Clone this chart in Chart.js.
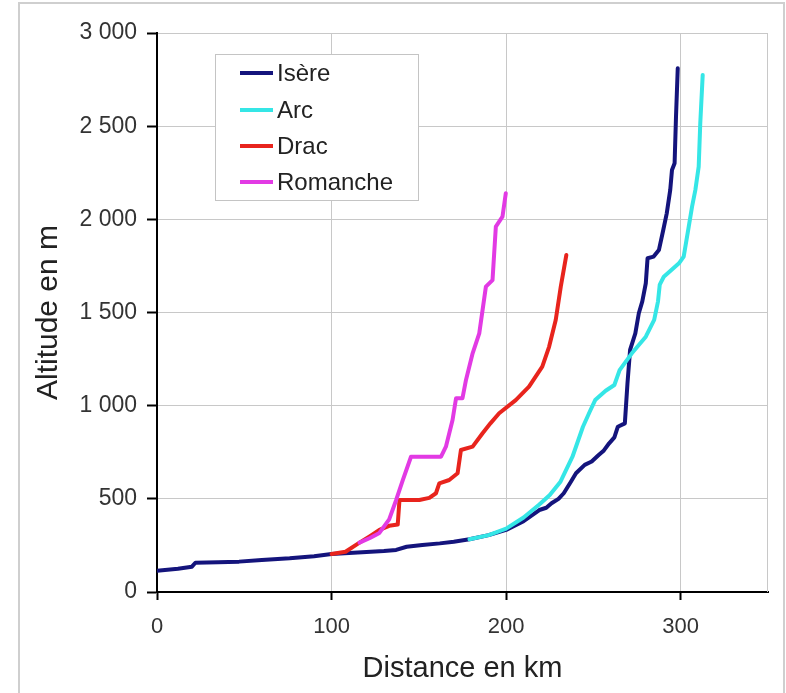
<!DOCTYPE html>
<html>
<head>
<meta charset="utf-8">
<script src="https://cdn.jsdelivr.net/npm/chart.js@4/dist/chart.umd.min.js"></script>
<style>
  html, body { margin: 0; padding: 0; background: #fff; }
  #wrap { width: 786px; height: 693px; }
</style>
</head>
<body>
<div id="wrap"><canvas id="c" width="786" height="693"></canvas></div>
<script>
// Longitudinal profiles: distance from the confluence (km) vs altitude (m)
const seriesNames = ['Isère', 'Arc', 'Drac', 'Romanche'];

const isereKm = [0, 12, 20, 22, 35, 47, 60, 76, 90, 100, 115, 130, 137, 143, 152, 162, 170, 179, 190, 200,
  210, 219, 223, 226, 230, 233, 237, 240, 245, 249, 253, 256, 259, 262, 264, 268, 269.5, 271, 274, 276,
  278, 280, 281, 284.5, 287.5, 290, 292, 294, 295, 296.5, 297.3, 298.3];
const isereAlt = [114, 125, 136, 157, 160, 163, 172, 181, 192, 204, 212, 220, 226, 243, 252, 261, 270, 283, 305, 333,
  380, 440, 452, 476, 500, 530, 590, 637, 682, 700, 735, 760, 798, 830, 887, 905, 1120, 1299, 1388, 1496,
  1560, 1657, 1791, 1800, 1835, 1943, 2032, 2158, 2265, 2301, 2551, 2811];

const arcKm = [179, 190, 200, 210, 219, 225, 231, 238, 244, 248, 251, 257, 262, 265, 272, 280, 284.8, 287, 288,
  290.3, 299, 301.7, 304.6, 306.5, 308.4, 310.3, 311.2, 312.6];
const arcAlt = [283, 305, 340, 400, 470, 520, 590, 726, 887, 970, 1030, 1080, 1111, 1191, 1281, 1370, 1460, 1560, 1650,
  1692, 1764, 1800, 1961, 2068, 2158, 2283, 2515, 2775];

const dracKm = [100, 108, 116, 122, 127.4, 133, 137.9, 138.9, 145, 150.3, 156, 159.8, 161.7, 167.4, 172.2, 174.1,
  180.8, 186.5, 191, 196, 205.5, 213.1, 220.7, 224.6, 228.4, 231.3, 234.5];
const dracAlt = [204, 216, 265, 300, 333, 355, 362, 494, 494, 494, 505, 530, 583, 601, 637, 762,
  780, 852, 905, 959, 1030, 1102, 1209, 1316, 1460, 1639, 1809];

const romancheKm = [116, 122, 127.4, 133, 137, 140.8, 145.5, 162.7, 165.5, 169.3, 171.3, 175, 177, 180.8, 184.6,
  188.4, 192.2, 194.1, 197.9, 199.8];
const romancheAlt = [265, 290, 317, 390, 494, 601, 726, 726, 780, 923, 1040, 1040, 1138, 1281, 1388,
  1639, 1674, 1961, 2014, 2140];

const xTicks = [0, 100, 200, 300];
const yTicks = [0, 500, 1000, 1500, 2000, 2500, 3000];

const colors = ['#14147c', '#35e6e6', '#e8241d', '#e23ae4'];
const FONT = '"Liberation Sans", Arial, Helvetica, sans-serif';

function toPoints(xs, ys) { return xs.map((x, i) => ({ x: x, y: ys[i] })); }
function fmtThousands(v) { return String(v).replace(/\B(?=(\d{3})+(?!\d))/g, ' '); }

const kmSeries = [isereKm, arcKm, dracKm, romancheKm];
const altSeries = [isereAlt, arcAlt, dracAlt, romancheAlt];
const drawOrder = [3, 2, 1, 0];

const datasets = seriesNames.map((name, i) => ({
  label: name,
  data: toPoints(kmSeries[i], altSeries[i]),
  borderColor: colors[i],
  backgroundColor: colors[i],
  borderWidth: 4,
  pointRadius: 0,
  tension: 0,
  fill: false,
  borderJoinStyle: 'round',
  borderCapStyle: 'round',
  order: drawOrder[i]
}));

// Outer frame of the figure
const framePlugin = {
  id: 'frame',
  beforeDraw(chart) {
    const ctx = chart.ctx;
    ctx.save();
    ctx.fillStyle = '#fff';
    ctx.fillRect(0, 0, chart.width, chart.height);
    ctx.strokeStyle = '#cfcfcf';
    ctx.lineWidth = 2;
    ctx.beginPath();
    ctx.moveTo(19, chart.height);
    ctx.lineTo(19, 3);
    ctx.lineTo(784, 3);
    ctx.lineTo(784, chart.height);
    ctx.stroke();
    ctx.restore();
  }
};

// Right edge of the plot area + legend box inside the plot
const legendPlugin = {
  id: 'insideLegend',
  beforeDatasetsDraw(chart) {
    const a = chart.chartArea, ctx = chart.ctx;
    ctx.save();
    ctx.strokeStyle = '#c8c8c8';
    ctx.lineWidth = 1;
    ctx.beginPath();
    ctx.moveTo(Math.round(a.right) - 0.5, a.top);
    ctx.lineTo(Math.round(a.right) - 0.5, a.bottom);
    ctx.stroke();
    ctx.restore();
  },
  afterDatasetsDraw(chart) {
    const ctx = chart.ctx;
    ctx.save();
    ctx.fillStyle = '#fff';
    ctx.fillRect(215, 54, 203, 146);
    ctx.strokeStyle = '#c4c4c4';
    ctx.lineWidth = 1;
    ctx.strokeRect(215.5, 54.5, 203, 146);
    const rows = [73, 110, 146, 182];
    ctx.font = '24px ' + FONT;
    ctx.textBaseline = 'middle';
    ctx.textAlign = 'left';
    seriesNames.forEach((name, i) => {
      ctx.strokeStyle = colors[i];
      ctx.lineWidth = 4;
      ctx.lineCap = 'butt';
      ctx.beginPath();
      ctx.moveTo(240, rows[i]);
      ctx.lineTo(273, rows[i]);
      ctx.stroke();
      ctx.fillStyle = '#222';
      ctx.fillText(name, 277, rows[i] + 1);
    });
    ctx.restore();
  }
};

new Chart(document.getElementById('c'), {
  type: 'line',
  data: { datasets: datasets },
  plugins: [framePlugin, legendPlugin],
  options: {
    responsive: false,
    animation: false,
    layout: { padding: { left: 20, top: 33, right: 18, bottom: 0 } },
    plugins: { legend: { display: false }, tooltip: { enabled: false } },
    scales: {
      x: {
        type: 'linear',
        min: 0,
        max: 350,
        afterBuildTicks(scale) { scale.ticks = xTicks.map(v => ({ value: v })); },
        afterFit(scale) { scale.height = 101; },
        grid: { color: '#c8c8c8', lineWidth: 1, tickColor: '#000', tickLength: 8, tickWidth: 2 },
        border: { color: '#000', width: 2 },
        ticks: { font: { family: FONT, size: 22 }, color: '#333', padding: 14, maxRotation: 0 },
        title: {
          display: true, text: 'Distance en km',
          font: { family: FONT, size: 29 }, color: '#222',
          padding: { top: 0, bottom: 7 }
        }
      },
      y: {
        type: 'linear',
        min: 0,
        max: 3000,
        afterBuildTicks(scale) { scale.ticks = yTicks.map(v => ({ value: v })); },
        afterFit(scale) { scale.width = 137; },
        grid: { color: '#c8c8c8', lineWidth: 1, tickColor: '#000', tickLength: 10, tickWidth: 2 },
        border: { color: '#000', width: 2 },
        ticks: {
          font: { family: FONT, size: 23 }, color: '#333', padding: 10,
          callback: v => fmtThousands(v)
        },
        title: {
          display: true, text: 'Altitude en m',
          font: { family: FONT, size: 30 }, color: '#222',
          padding: { top: 11, bottom: 0 }
        }
      }
    }
  }
});
</script>
</body>
</html>
